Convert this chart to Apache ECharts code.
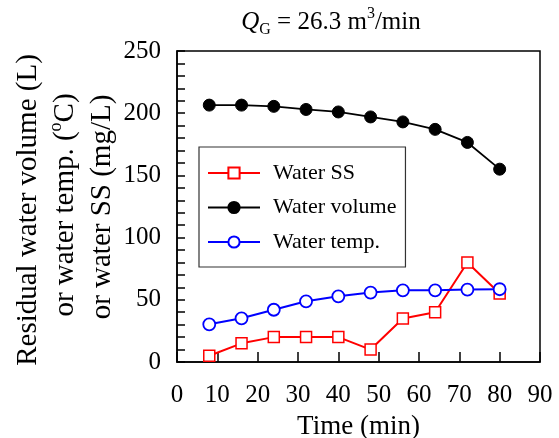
<!DOCTYPE html>
<html>
<head>
    <meta charset="UTF-8">
    <title></title>
    <style type="text/css">
        html, body { margin: 0; padding: 0; background: #fff; }
        #main1 { width: 559px; height: 438px; }
    </style>
</head>
<body>
<div id="main1"></div>
<script type="text/javascript" src="https://cdn.jsdelivr.net/npm/echarts@6/dist/echarts.min.js"></script>
<script type="text/javascript">
    // time (min)
    var timeData = [8, 16, 24, 32, 40, 48, 56, 64, 72, 80];
    var ssData = [5, 15, 20, 20, 20, 10, 35, 40, 80, 55];
    var volumeData = [206.5, 206.5, 205.5, 203, 201, 197, 193, 187, 176.5, 155];
    var tempData = [30.3, 35.1, 42, 48.8, 52.8, 55.8, 57.6, 57.6, 58.2, 58.5];
    var seriesNames = ['Water SS', 'Water volume', 'Water temp.'];

    var serif = '"Liberation Serif", "Times New Roman", serif';

    function pairs(ys) {
        var out = [];
        for (var i = 0; i < timeData.length; i++) {
            out.push([timeData[i], ys[i]]);
        }
        return out;
    }

    var myChart1 = echarts.init(document.getElementById('main1'));
    var option1 = {
        animation: false,
        textStyle: { fontFamily: serif, color: '#000' },
        grid: {
            left: 177, right: 19, top: 51, bottom: 76,
            outerBoundsMode: 'none',
            show: true, borderColor: '#000', borderWidth: 1.5
        },
        graphic: [
            {
                type: 'text', x: 331, y: 22,
                style: {
                    text: '{q|Q}{sub|G}{n| = 26.3 m}{sup|3}{n|/min}',
                    align: 'center', verticalAlign: 'middle',
                    fontFamily: serif, fill: '#000',
                    rich: {
                        q: { fontSize: 25, fontStyle: 'italic', fontFamily: serif, lineHeight: 32 },
                        n: { fontSize: 25, fontFamily: serif, lineHeight: 32 },
                        sub: { fontSize: 16, fontFamily: serif, lineHeight: 14, verticalAlign: 'bottom' },
                        sup: { fontSize: 16, fontFamily: serif, lineHeight: 14, verticalAlign: 'top' }
                    }
                }
            },
            {
                type: 'text', x: 28, y: 210, rotation: Math.PI / 2,
                style: {
                    text: 'Residual water volume (L)',
                    align: 'center', verticalAlign: 'middle',
                    font: '29px ' + serif, fill: '#000'
                }
            },
            {
                type: 'text', x: 65, y: 205, rotation: Math.PI / 2,
                style: {
                    text: '{n|or water temp. (}{sup|o}{n|C)}',
                    align: 'center', verticalAlign: 'middle',
                    fontFamily: serif, fill: '#000',
                    rich: {
                        n: { fontSize: 29, fontFamily: serif, lineHeight: 36 },
                        sup: { fontSize: 18, fontFamily: serif, lineHeight: 18, verticalAlign: 'top' }
                    }
                }
            },
            {
                type: 'text', x: 102, y: 207, rotation: Math.PI / 2,
                style: {
                    text: 'or water SS (mg/L)',
                    align: 'center', verticalAlign: 'middle',
                    font: '29px ' + serif, fill: '#000'
                }
            }
        ],
        legend: {
            data: seriesNames,
            orient: 'vertical',
            left: 199, top: 147,
            padding: [15, 9, 14, 8],
            itemWidth: 52, itemHeight: 14, itemGap: 12.5,
            borderColor: '#333', borderWidth: 1.2,
            backgroundColor: '#fff',
            textStyle: { fontFamily: serif, fontSize: 22, color: '#000', padding: [0, 0, 0, 8] }
        },
        xAxis: {
            type: 'value', min: 0, max: 90, interval: 10,
            name: 'Time (min)', nameLocation: 'middle', nameGap: 51,
            nameTextStyle: { fontFamily: serif, fontSize: 27, color: '#000' },
            axisLine: { lineStyle: { color: '#000', width: 1.5 } },
            axisTick: { inside: true, length: 10, lineStyle: { color: '#000', width: 1.5 } },
            axisLabel: { fontFamily: serif, fontSize: 25, color: '#000', margin: 21 },
            splitLine: { show: false }
        },
        yAxis: {
            type: 'value', min: 0, max: 250, interval: 50,
            axisLine: { show: true, lineStyle: { color: '#000', width: 1.5 } },
            axisTick: { show: true, inside: true, length: 8, lineStyle: { color: '#000', width: 1.5 } },
            minorTick: { show: true, splitNumber: 5, length: 8, lineStyle: { color: '#000', width: 1.5 } },
            axisLabel: { fontFamily: serif, fontSize: 25, color: '#000', margin: 16 },
            splitLine: { show: false }
        },
        series: [
            {
                name: seriesNames[0], type: 'line', data: pairs(ssData),
                symbol: 'rect', symbolSize: 11,
                lineStyle: { color: '#ff0000', width: 2 },
                itemStyle: { color: '#fff', borderColor: '#ff0000', borderWidth: 1.5 },
                z: 3
            },
            {
                name: seriesNames[1], type: 'line', data: pairs(volumeData),
                symbol: 'circle', symbolSize: 12,
                lineStyle: { color: '#000', width: 1.8 },
                itemStyle: { color: '#000', borderColor: '#000', borderWidth: 1 },
                z: 4
            },
            {
                name: seriesNames[2], type: 'line', data: pairs(tempData),
                symbol: 'circle', symbolSize: 12,
                lineStyle: { color: '#0000ff', width: 2 },
                itemStyle: { color: '#fff', borderColor: '#0000ff', borderWidth: 1.8 },
                z: 5
            }
        ]
    };
    myChart1.setOption(option1);
</script>
</body>
</html>
